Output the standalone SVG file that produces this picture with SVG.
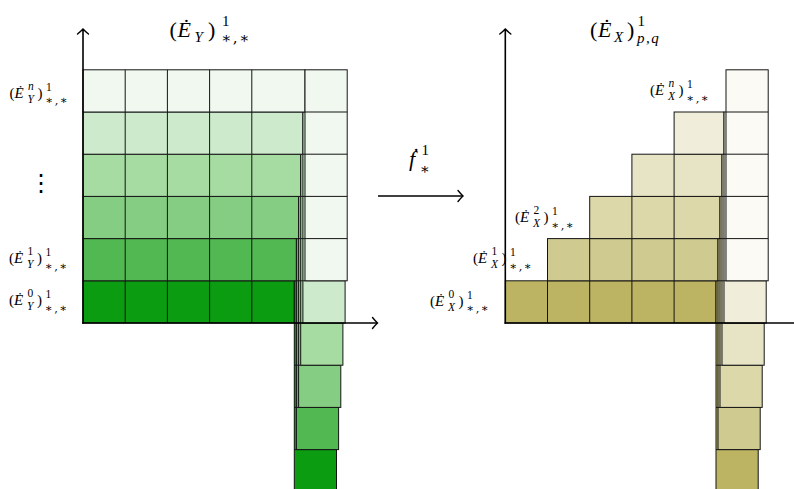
<svg xmlns="http://www.w3.org/2000/svg" width="794" height="489" viewBox="0 0 794 489">
<defs>
<marker id="ah" viewBox="-7 -7 9 14" markerWidth="9" markerHeight="14" refX="0" refY="0" orient="auto" markerUnits="userSpaceOnUse">
<path d="M-5,-5.5 Q-1.6,-1.4 0,0 Q-1.6,1.4 -5,5.5" fill="none" stroke="#000" stroke-width="1.4" stroke-linecap="round"/>
</marker>
<style>
.c{stroke:#141414;stroke-width:1}
.ln{stroke:#141414;stroke-width:1;fill:none}
.ax{stroke:#000;stroke-width:1.6;fill:none}
.g0{fill:#0b9c12}.g1{fill:#52b852}.g2{fill:#84cd82}.g3{fill:#a6dba2}.g4{fill:#cdeacc}.g5{fill:#f0f8ef}
.o0{fill:#bdb463}.o1{fill:#cfca8f}.o2{fill:#dcd8aa}.o3{fill:#e7e3c5}.o4{fill:#f0eedb}.o5{fill:#fbfaf4}
text{font-family:"Liberation Serif","DejaVu Serif",serif;fill:#000}
.big{font-size:22px}
.sm{font-size:15px}
.s1{font-size:15px}
.s2{font-size:11.5px}
.i{font-style:italic}
.ast{font-family:"DejaVu Serif",serif;letter-spacing:1.5px}
</style>
</defs>

<!-- LEFT: (E_Y) pages -->
<g id="left-page0">
<rect class="c g0" x="83" y="280.8" width="211.3" height="42.2"/>
<path class="ln" d="M125.2,280.8V323M167.4,280.8V323M209.6,280.8V323M251.8,280.8V323"/>
<rect class="c g0" x="294.3" y="280.8" width="42.2" height="211"/>
<path class="ln" d="M294.3,323H336.5M294.3,365.2H336.5M294.3,407.4H336.5M294.3,449.6H336.5"/>
</g>
<g id="left-page1">
<rect class="c g1" x="83" y="238.6" width="213.4" height="42.2"/>
<path class="ln" d="M125.2,238.6V280.8M167.4,238.6V280.8M209.6,238.6V280.8M251.8,238.6V280.8"/>
<rect class="c g1" x="296.4" y="238.6" width="42.2" height="211"/>
<path class="ln" d="M296.4,280.8H338.6M296.4,323H338.6M296.4,365.2H338.6M296.4,407.4H338.6"/>
</g>
<g id="left-page2">
<rect class="c g2" x="83" y="196.4" width="215.6" height="42.2"/>
<path class="ln" d="M125.2,196.4V238.6M167.4,196.4V238.6M209.6,196.4V238.6M251.8,196.4V238.6"/>
<rect class="c g2" x="298.6" y="196.4" width="42.2" height="211"/>
<path class="ln" d="M298.6,238.6H340.8M298.6,280.8H340.8M298.6,323H340.8M298.6,365.2H340.8"/>
</g>
<g id="left-page3">
<rect class="c g3" x="83" y="154.2" width="217.7" height="42.2"/>
<path class="ln" d="M125.2,154.2V196.4M167.4,154.2V196.4M209.6,154.2V196.4M251.8,154.2V196.4"/>
<rect class="c g3" x="300.7" y="154.2" width="42.2" height="211"/>
<path class="ln" d="M300.7,196.4H342.9M300.7,238.6H342.9M300.7,280.8H342.9M300.7,323H342.9"/>
</g>
<g id="left-page4">
<rect class="c g4" x="83" y="112" width="219.9" height="42.2"/>
<path class="ln" d="M125.2,112V154.2M167.4,112V154.2M209.6,112V154.2M251.8,112V154.2"/>
<rect class="c g4" x="302.9" y="112" width="42.2" height="211"/>
<path class="ln" d="M302.9,154.2H345.1M302.9,196.4H345.1M302.9,238.6H345.1M302.9,280.8H345.1"/>
</g>
<g id="left-page5">
<rect class="c g5" x="83" y="69.8" width="222" height="42.2"/>
<path class="ln" d="M125.2,69.8V112M167.4,69.8V112M209.6,69.8V112M251.8,69.8V112"/>
<rect class="c g5" x="305" y="69.8" width="42.2" height="211"/>
<path class="ln" d="M305,112H347.2M305,154.2H347.2M305,196.4H347.2M305,238.6H347.2"/>
</g>

<!-- RIGHT: (E_X) pages -->
<g id="right-page0">
<rect class="c o0" x="505.3" y="280.8" width="210.7" height="42.2"/>
<path class="ln" d="M547.5,280.8V323M589.7,280.8V323M631.9,280.8V323M674.1,280.8V323"/>
<rect class="c o0" x="716" y="280.8" width="42.2" height="211"/>
<path class="ln" d="M716,323H758.2M716,365.2H758.2M716,407.4H758.2M716,449.6H758.2"/>
</g>
<g id="right-page1">
<rect class="c o1" x="547.5" y="238.6" width="170.5" height="42.2"/>
<path class="ln" d="M589.7,238.6V280.8M631.9,238.6V280.8M674.1,238.6V280.8"/>
<rect class="c o1" x="718" y="238.6" width="42.2" height="211"/>
<path class="ln" d="M718,280.8H760.2M718,323H760.2M718,365.2H760.2M718,407.4H760.2"/>
</g>
<g id="right-page2">
<rect class="c o2" x="589.7" y="196.4" width="130.3" height="42.2"/>
<path class="ln" d="M631.9,196.4V238.6M674.1,196.4V238.6"/>
<rect class="c o2" x="720" y="196.4" width="42.2" height="211"/>
<path class="ln" d="M720,238.6H762.2M720,280.8H762.2M720,323H762.2M720,365.2H762.2"/>
</g>
<g id="right-page3">
<rect class="c o3" x="631.9" y="154.2" width="90.1" height="42.2"/>
<path class="ln" d="M674.1,154.2V196.4"/>
<rect class="c o3" x="722" y="154.2" width="42.2" height="211"/>
<path class="ln" d="M722,196.4H764.2M722,238.6H764.2M722,280.8H764.2M722,323H764.2"/>
</g>
<g id="right-page4">
<rect class="c o4" x="674.1" y="112" width="49.9" height="42.2"/>
<rect class="c o4" x="724" y="112" width="42.2" height="211"/>
<path class="ln" d="M724,154.2H766.2M724,196.4H766.2M724,238.6H766.2M724,280.8H766.2"/>
</g>
<g id="right-page5">
<rect class="c o5" x="726" y="69.8" width="42.2" height="211"/>
<path class="ln" d="M726,112H768.2M726,154.2H768.2M726,196.4H768.2M726,238.6H768.2"/>
</g>

<!-- connectors: axes and map arrow -->
<g id="connectors">
<path class="ax" d="M83,323.8V29" marker-end="url(#ah)"/>
<path class="ax" d="M82.2,323H377.5" marker-end="url(#ah)"/>
<path class="ax" d="M505.3,323.8V29" marker-end="url(#ah)"/>
<path class="ax" d="M504.5,323H800" marker-end="url(#ah)"/>
<path class="ax" d="M378,196H463" marker-end="url(#ah)"/>
</g>

<!-- titles -->
<g id="title-left">
<text class="big"><tspan x="169.5" y="37">(</tspan><tspan class="i" x="177.5" y="37">Ė</tspan><tspan class="i s1" x="194.5" y="41.5">Y</tspan><tspan x="208" y="37">)</tspan><tspan class="s1" x="222" y="25.5">1</tspan><tspan class="s1 ast" x="221" y="43">∗,∗</tspan></text>
</g>
<g id="title-right">
<text class="big"><tspan x="590" y="37">(</tspan><tspan class="i" x="598" y="37">Ė</tspan><tspan class="i s1" x="614" y="41.5">X</tspan><tspan x="627" y="37">)</tspan><tspan class="s1" x="637.5" y="25.5">1</tspan><tspan class="i s1" x="637" y="43" style="letter-spacing:1.5px">p,q</tspan></text>
</g>
<g id="map-label">
<text class="big"><tspan class="i" x="409" y="166">ḟ</tspan><tspan class="s1" x="421.5" y="155">1</tspan><tspan class="s1 ast" x="419.5" y="174">∗</tspan></text>
</g>

<!-- small labels left -->
<g id="label-Yn">
<text class="sm"><tspan x="9.5" y="97.5">(</tspan><tspan class="i" x="14.5" y="97.5">Ė</tspan><tspan class="i s2" x="28" y="89.5">n</tspan><tspan class="i s2" x="27.5" y="102.5">Y</tspan><tspan x="37.5" y="97.5">)</tspan><tspan class="s2" x="46" y="90.5">1</tspan><tspan class="s2 ast" x="45.5" y="104">∗,∗</tspan></text>
</g>
<text id="label-vdots" x="41" y="191" style="font-family:'DejaVu Sans',sans-serif;font-size:24px" text-anchor="middle">⋮</text>
<g id="label-Y1">
<text class="sm"><tspan x="9" y="263">(</tspan><tspan class="i" x="14" y="263">Ė</tspan><tspan class="s2" x="27.5" y="255">1</tspan><tspan class="i s2" x="27" y="268">Y</tspan><tspan x="37" y="263">)</tspan><tspan class="s2" x="45.5" y="256">1</tspan><tspan class="s2 ast" x="45" y="269.5">∗,∗</tspan></text>
</g>
<g id="label-Y0">
<text class="sm"><tspan x="9" y="305">(</tspan><tspan class="i" x="14" y="305">Ė</tspan><tspan class="s2" x="27.5" y="297">0</tspan><tspan class="i s2" x="27" y="310">Y</tspan><tspan x="37" y="305">)</tspan><tspan class="s2" x="45.5" y="298">1</tspan><tspan class="s2 ast" x="45" y="311.5">∗,∗</tspan></text>
</g>

<!-- small labels right -->
<g id="label-Xn">
<text class="sm"><tspan x="650" y="95">(</tspan><tspan class="i" x="655" y="95">Ė</tspan><tspan class="i s2" x="668.5" y="87">n</tspan><tspan class="i s2" x="668" y="100">X</tspan><tspan x="678.5" y="95">)</tspan><tspan class="s2" x="687" y="88">1</tspan><tspan class="s2 ast" x="686.5" y="101.5">∗,∗</tspan></text>
</g>
<g id="label-X2">
<text class="sm"><tspan x="515" y="222">(</tspan><tspan class="i" x="520" y="222">Ė</tspan><tspan class="s2" x="533.5" y="214">2</tspan><tspan class="i s2" x="533" y="227">X</tspan><tspan x="543.5" y="222">)</tspan><tspan class="s2" x="552" y="215">1</tspan><tspan class="s2 ast" x="551.5" y="228.5">∗,∗</tspan></text>
</g>
<g id="label-X1">
<text class="sm"><tspan x="473" y="263">(</tspan><tspan class="i" x="478" y="263">Ė</tspan><tspan class="s2" x="491.5" y="255">1</tspan><tspan class="i s2" x="491" y="268">X</tspan><tspan x="501.5" y="263">)</tspan><tspan class="s2" x="510" y="256">1</tspan><tspan class="s2 ast" x="509.5" y="269.5">∗,∗</tspan></text>
</g>
<g id="label-X0">
<text class="sm"><tspan x="430" y="305.5">(</tspan><tspan class="i" x="435" y="305.5">Ė</tspan><tspan class="s2" x="448.5" y="297.5">0</tspan><tspan class="i s2" x="448" y="310.5">X</tspan><tspan x="458.5" y="305.5">)</tspan><tspan class="s2" x="467" y="298.5">1</tspan><tspan class="s2 ast" x="466.5" y="312">∗,∗</tspan></text>
</g>
</svg>
